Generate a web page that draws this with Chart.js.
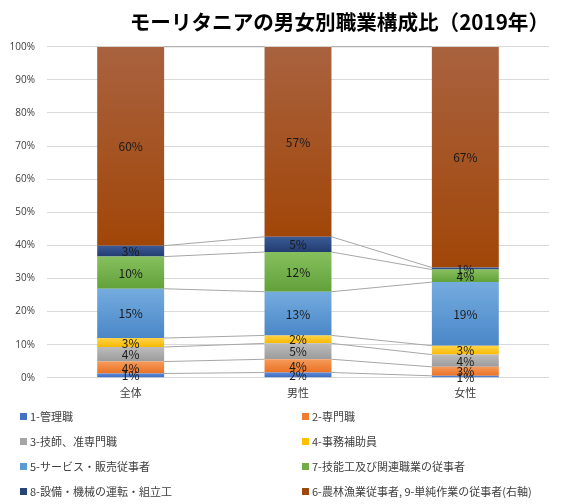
<!DOCTYPE html>
<html><head><meta charset="utf-8">
<script src="https://cdn.jsdelivr.net/npm/chart.js@4"></script>
<style>
html,body{margin:0;padding:0;background:#fff;}
#wrap{position:relative;width:563px;height:504px;}
#legend{position:absolute;left:0;top:0;width:563px;height:504px;pointer-events:none;font-family:"Noto Sans CJK JP",sans-serif;font-size:11px;color:#404040;}
.li{position:absolute;display:flex;align-items:center;white-space:nowrap;line-height:14px;}
.sw{width:7px;height:7px;margin-right:3px;display:inline-block;}
</style></head>
<body><div id="wrap"><canvas id="c" width="563" height="504"></canvas><div id="legend"></div></div>
<script>
const categories = ["全体", "男性", "女性"];
const seriesNames = ["1-管理職","2-専門職","3-技師、准専門職","4-事務補助員","5-サービス・販売従事者","7-技能工及び関連職業の従事者","8-設備・機械の運転・組立工","6-農林漁業従事者, 9-単純作業の従事者(右軸)"];
const s1 = [1.3, 1.6, 0.6];
const s2 = [3.6, 4.0, 2.7];
const s3 = [4.4, 4.8, 3.7];
const s4 = [2.7, 2.4, 2.7];
const s5 = [14.9, 13.2, 19.2];
const s7 = [9.7, 12.0, 3.8];
const s8 = [3.3, 4.6, 0.6];
const s6 = [60.1, 57.4, 66.7];
const yTicks = [0,10,20,30,40,50,60,70,80,90,100];

const seriesData = [s1,s2,s3,s4,s5,s7,s8,s6];
const colorTop = ["#5b8ad8","#f59a5a","#bcbcbc","#ffd34a","#75acdf","#86c05e","#3b5b97","#a9623f"];
const colorBot = ["#3c6bc0","#ea7224","#9b9b9b","#f7b900","#4a87c8","#62a13a","#213c70","#a14608"];
const legendColor = ["#4472c4","#ed7d31","#a5a5a5","#ffc000","#5b9bd5","#70ad47","#264478","#9e480e"];

function segGradient(ctx, dsIndex){
  const chart = ctx.chart;
  const area = chart.chartArea;
  if(!area || ctx.dataIndex === undefined) return legendColor[dsIndex];
  const y = chart.scales.y;
  let base = 0;
  for(let k=0;k<dsIndex;k++) base += seriesData[k][ctx.dataIndex];
  const top = base + seriesData[dsIndex][ctx.dataIndex];
  const y0 = y.getPixelForValue(top), y1 = y.getPixelForValue(base);
  if(!isFinite(y0) || !isFinite(y1) || y0 === y1) return legendColor[dsIndex];
  const g = chart.ctx.createLinearGradient(0, y0, 0, y1);
  g.addColorStop(0, colorTop[dsIndex]);
  g.addColorStop(1, colorBot[dsIndex]);
  return g;
}

const datasets = seriesData.map((d,i)=>({
  label: seriesNames[i],
  data: d,
  backgroundColor: (ctx)=>segGradient(ctx,i),
  borderWidth: 0,
  barPercentage: 0.4,
  categoryPercentage: 1.0
}));

const seriesLines = {
  id:'seriesLines',
  beforeDatasetsDraw(chart){
    const c = chart.ctx, y = chart.scales.y;
    const metas = chart.data.datasets.map((_,i)=>chart.getDatasetMeta(i));
    c.save();
    c.strokeStyle = "#a6a6a6";
    c.lineWidth = 1;
    for(let j=0;j<categories.length-1;j++){
      let cumA = 0, cumB = 0;
      for(let i=0;i<seriesData.length;i++){
        cumA += seriesData[i][j]; cumB += seriesData[i][j+1];
        const ea = metas[i].data[j], eb = metas[i].data[j+1];
        const xa = ea.x + ea.width/2, xb = eb.x - eb.width/2;
        c.beginPath();
        c.moveTo(xa, y.getPixelForValue(cumA));
        c.lineTo(xb, y.getPixelForValue(cumB));
        c.stroke();
      }
    }
    c.restore();
  }
};

const dataLabels = {
  id:'dataLabels',
  afterDatasetsDraw(chart){
    const c = chart.ctx;
    c.save();
    c.font = '12px "Noto Sans CJK JP", sans-serif';
    c.fillStyle = "#1a1a1a";
    c.textAlign = "center";
    c.textBaseline = "middle";
    chart.data.datasets.forEach((ds,i)=>{
      chart.getDatasetMeta(i).data.forEach((el,j)=>{
        const v = ds.data[j];
        c.fillText(Math.round(v)+"%", el.x, (el.y+el.base)/2 + 0.5);
      });
    });
    c.restore();
  }
};

new Chart(document.getElementById('c'), {
  type:'bar',
  data:{labels:categories, datasets},
  plugins:[seriesLines, dataLabels],
  options:{
    responsive:false,
    animation:false,
    devicePixelRatio:1,
    layout:{padding:{left:0,right:14,top:0,bottom:105}},
    plugins:{
      legend:{display:false},
      tooltip:{enabled:false},
      title:{display:true, text:"モーリタニアの男女別職業構成比（2019年）", align:'end',
        color:"#000", font:{family:'"Noto Sans CJK JP", sans-serif', size:20.6, weight:'bold'},
        padding:{top:10,bottom:12}}
    },
    scales:{
      x:{stacked:true, grid:{display:false}, border:{display:false},
        ticks:{color:"#404040", padding:0, font:{family:'"Noto Sans CJK JP", sans-serif', size:11}}},
      y:{stacked:true, min:0, max:100,
        afterFit(s){ s.width = 47; },
        afterBuildTicks(s){ s.ticks = yTicks.map(v=>({value:v})); },
        grid:{color:"#d9d9d9", drawTicks:false}, border:{display:false},
        ticks:{color:"#404040", padding:12, callback:(v)=>v+"%", font:{family:'"Open Sans", sans-serif', size:10}}}
    }
  }
});

const lg = document.getElementById('legend');
const rowsY = [416, 441, 466, 491];
const colsX = [20, 302];
seriesNames.forEach((n,i)=>{
  const r = Math.floor(i/2), col = i%2;
  const d = document.createElement('div');
  d.className='li';
  d.style.left = colsX[col]+'px';
  d.style.top = (rowsY[r]-7)+'px';
  d.innerHTML = '<span class="sw" style="background:'+legendColor[i]+'"></span><span></span>';
  d.lastChild.textContent = n;
  lg.appendChild(d);
});
</script></body></html>
